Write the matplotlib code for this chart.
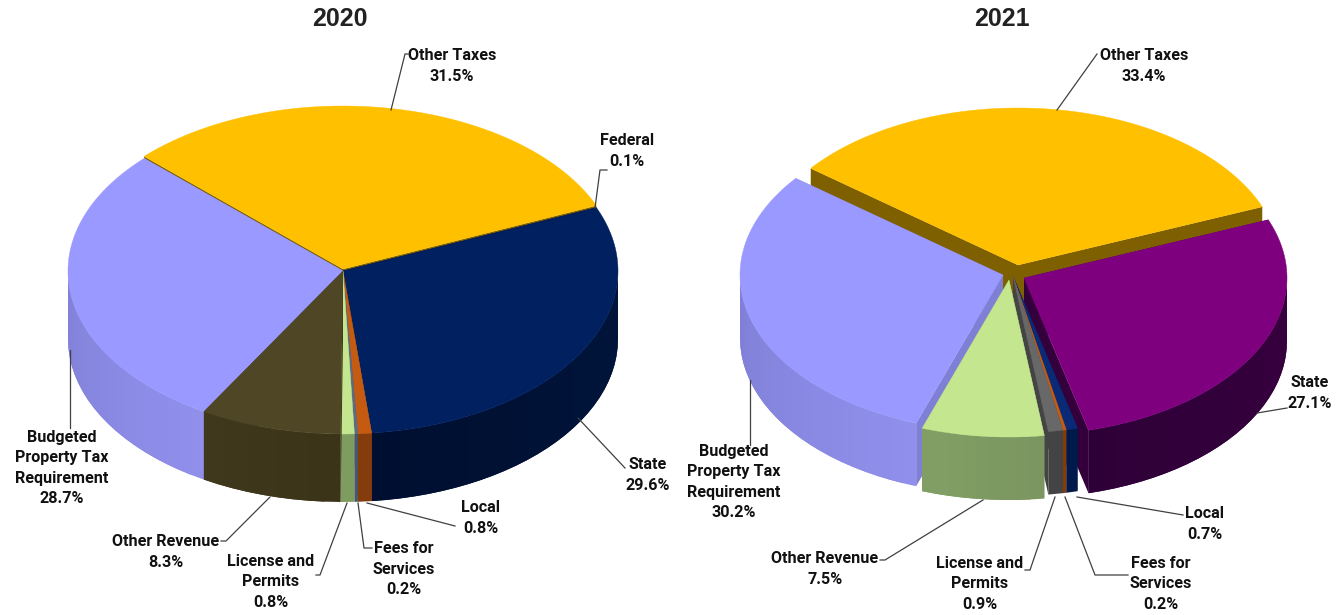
import numpy as np
import matplotlib
matplotlib.use("Agg")
import matplotlib.pyplot as plt
from matplotlib.colors import to_rgb
from matplotlib.patches import Polygon

# ---------- data ----------
titles = ["2020", "2021"]
cats_2020 = ["Other Taxes", "Federal", "State", "Local", "Fees for\nServices",
             "License and\nPermits", "Other Revenue", "Budgeted\nProperty Tax\nRequirement"]
vals_2020 = [31.5, 0.1, 29.6, 0.8, 0.2, 0.8, 8.3, 28.7]
cats_2021 = ["Other Taxes", "State", "Local", "Fees for\nServices",
             "License and\nPermits", "Other Revenue", "Budgeted\nProperty Tax\nRequirement"]
vals_2021 = [33.4, 27.1, 0.7, 0.2, 0.9, 7.5, 30.2]

# ---------- style ----------
W, H = 1343, 615
tops_2020 = ["#FFC000", "#001C5C", "#002060", "#C55A11", "#5F6B80", "#C3E68F", "#4F4626", "#9999FF"]
walls_2020 = [("#7F6000", "#7F6000"), ("#001030", "#001030"), ("#00163F", "#000F30"),
              ("#843C0C", "#843C0C"), ("#4A5570", "#4A5570"), ("#7E9C60", "#7E9C60"),
              ("#3B3418", "#3F381C"), ("#9090EC", "#7474C8")]
tops_2021 = ["#FFC000", "#7F007F", "#0A2A78", "#C55A11", "#686868", "#C3E68F", "#9999FF"]
walls_2021 = [("#7F6000", "#7F6000"), ("#3A0040", "#2E0038"), ("#001A4C", "#001A4C"),
              ("#843C0C", "#843C0C"), ("#444444", "#444444"), ("#7B9660", "#82A066"),
              ("#9090EC", "#7474C8")]
# apex of each slice's top face (pixels)
apex_2020 = [(343, 269)] + [(343, 271)] * 7
apex_2021 = [(1018, 265), (1024, 278), (1013, 276), (1013, 276), (1013, 276), (1009, 280), (1003, 275)]
geom_2020 = dict(rx=275, ry=163, depth=68, start=136.3)
geom_2021 = dict(rx=263, ry=157, depth=63, start=142.0)

label_pos_2020 = [(452, 66), (627, 151), (648, 475), (481, 518), (404, 569), (271, 582), (166, 552), (62, 468)]
label_pos_2021 = [(1144, 66), (1310, 393), (1205, 524), (1161, 584), (980, 584), (825, 569), (734, 482)]
leaders_2020 = [[(391, 110), (405, 54), (408, 54)],
                [(595, 208), (600, 170), (607, 170)],
                [(578, 418), (625, 468)],
                [(367, 503), (455, 526)],
                [(358, 503), (364, 548), (372, 548)],
                [(347, 503), (320, 575), (316, 575)],
                [(270, 497), (226, 541), (221, 541)],
                [(70, 350), (70, 428)]]
leaders_2021 = [[(1057, 110), (1097, 54)],
                [(1257, 413), (1287, 408)],
                [(1077, 497), (1183, 515)],
                [(1065, 497), (1095, 575), (1128, 575)],
                [(1055, 497), (1030, 570), (1025, 570)],
                [(983, 500), (885, 560), (880, 560)],
                [(750, 380), (750, 445)]]
title_pos = [(340, 19), (1002, 19)]
FONT = ["Roboto", "Liberation Sans", "DejaVu Sans"]


def lerp(c1, c2, t):
    a, b = np.array(to_rgb(c1)), np.array(to_rgb(c2))
    return tuple(a + (b - a) * t)


def draw_pie(ax, vals, tops, walls, apexes, rx, ry, depth, start):
    angles = start - np.cumsum([0] + list(vals)) * 3.6

    def pt(cx, cy, th):
        return cx + rx * np.cos(np.radians(th)), cy - ry * np.sin(np.radians(th))

    # painter's order: first slice (back), then the last big side, then the rest towards the front
    n = len(vals)
    draw_order = [0, n - 1] + list(range(1, n - 1))
    for rank, i in enumerate(draw_order):
        z = 2 + rank * 0.01
        a1, a2 = angles[i], angles[i + 1]
        cx, cy = apexes[i]
        c1, c2 = walls[i]
        th = np.linspace(a1, a2, max(int((a1 - a2) * 2), 6))
        x, y = pt(cx, cy, th)
        # cut faces
        for tha in (a1, a2):
            ex, ey = pt(cx, cy, tha)
            ax.add_patch(Polygon([(cx, cy), (ex, ey), (ex, ey + depth), (cx, cy + depth)],
                                 closed=True, fc=lerp(c1, c2, 0.6), ec="none", zorder=z))
        # outer wall (front half only), shaded with overlapping strips
        for lo, hi in ((-180, 0), (-540, -360)):
            l, h = max(a2, lo), min(a1, hi)
            if h <= l:
                continue
            ts = np.linspace(h, l, max(int((h - l) / 3), 1) + 1)
            for k in range(len(ts) - 1):
                seg = ts[k:k + 3]
                xs, ys = pt(cx, cy, seg)
                col = lerp(c1, c2, (a1 - ts[k]) / max(a1 - a2, 1e-6))
                verts = np.r_[np.column_stack([xs, ys]), np.column_stack([xs[::-1], ys[::-1] + depth])]
                ax.add_patch(Polygon(verts, closed=True, fc=col, ec="none", zorder=z))
        ax.add_patch(Polygon(np.column_stack([np.r_[cx, x], np.r_[cy, y]]), closed=True,
                             fc=tops[i], ec=tops[i], lw=0.3, zorder=z + 0.005))


fig = plt.figure(figsize=(W / 100, H / 100), dpi=100)
ax = fig.add_axes([0, 0, 1, 1])
ax.set_xlim(0, W)
ax.set_ylim(H, 0)
ax.axis("off")

draw_pie(ax, vals_2020, tops_2020, walls_2020, apex_2020, **geom_2020)
draw_pie(ax, vals_2021, tops_2021, walls_2021, apex_2021, **geom_2021)

for cats, vals, poss, leads in ((cats_2020, vals_2020, label_pos_2020, leaders_2020),
                                (cats_2021, vals_2021, label_pos_2021, leaders_2021)):
    for c, v, p, l in zip(cats, vals, poss, leads):
        xs, ys = zip(*l)
        ax.plot(xs, ys, color="#404040", lw=0.9, zorder=5)
        ax.text(p[0], p[1], f"{c}\n{v}%", ha="center", va="center", ma="center",
                family=FONT, fontweight="bold", fontsize=11.6, color="#111111",
                linespacing=1.45, zorder=6)

for t, p in zip(titles, title_pos):
    ax.text(p[0], p[1], t, ha="center", va="center", family=["Liberation Sans", "DejaVu Sans"],
            fontweight="bold", fontsize=18, color="#222222", zorder=6)

fig.savefig("out.png", dpi=100)
